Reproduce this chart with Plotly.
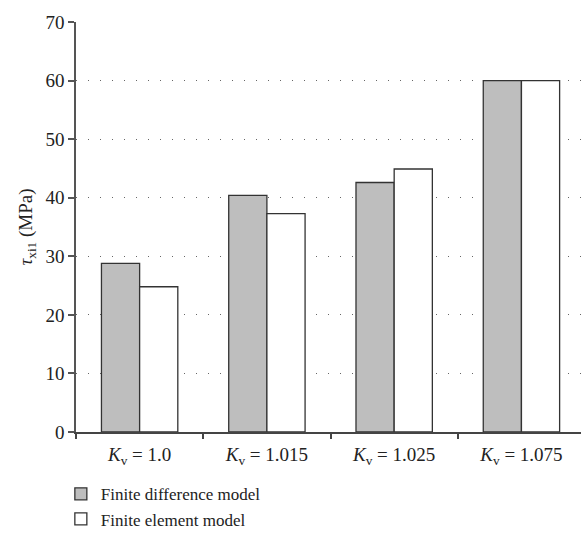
import plotly.graph_objects as go

categories = ["<i>K</i><sub>v</sub> = 1.0", "<i>K</i><sub>v</sub> = 1.015",
              "<i>K</i><sub>v</sub> = 1.025", "<i>K</i><sub>v</sub> = 1.075"]
fd_values = [28.8, 40.4, 42.6, 60.0]
fe_values = [24.8, 37.3, 44.9, 60.0]
y_ticks = [0, 10, 20, 30, 40, 50, 60, 70]

FONT = "Liberation Serif"
FS = 19

fig = go.Figure()
fig.add_trace(go.Bar(
    x=categories, y=fd_values, name="Finite difference model",
    marker=dict(color="#bebebe", line=dict(color="#333333", width=1.3)),
))
fig.add_trace(go.Bar(
    x=categories, y=fe_values, name="Finite element model",
    marker=dict(color="#ffffff", line=dict(color="#333333", width=1.3)),
))

fig.update_layout(
    width=581, height=535,
    margin=dict(l=76, r=0, t=22, b=103, autoexpand=False),
    paper_bgcolor="white", plot_bgcolor="white",
    barmode="group", bargap=0.4, bargroupgap=0,
    font=dict(family=FONT, size=FS, color="#222222"),
    showlegend=True,
    legend=dict(
        x=-0.03, y=-0.108, xanchor="left", yanchor="top",
        orientation="v", font=dict(family=FONT, size=17, color="#222222"),
        bgcolor="rgba(0,0,0,0)", tracegroupgap=0,
    ),
    xaxis=dict(
        type="category", range=[-0.5, 3.468], automargin=False,
        tickson="boundaries", ticks="outside", ticklen=5, tickwidth=1.5,
        tickcolor="#444444", ticklabelstandoff=4,
        showline=True, linecolor="#444444", linewidth=1.5,
        showgrid=False, zeroline=False,
        tickfont=dict(family=FONT, size=FS, color="#222222"),
    ),
    yaxis=dict(
        range=[0, 70], tickvals=y_ticks, automargin=False,
        ticks="outside", ticklen=6, tickwidth=1.5, tickcolor="#555555",
        showline=True, linecolor="#555555", linewidth=1.5,
        showgrid=True, gridcolor="#666666", gridwidth=1, griddash="1px,11px",
        zeroline=False,
        tickfont=dict(family=FONT, size=FS, color="#222222"),
        title=dict(text="<i>τ</i><sub>xi1</sub> (MPa)", standoff=8,
                   font=dict(family=FONT, size=FS, color="#222222")),
    ),
)

fig.write_html("out.html")
